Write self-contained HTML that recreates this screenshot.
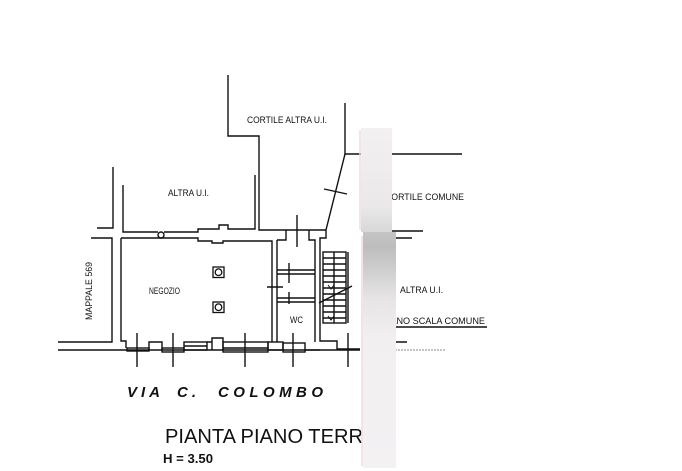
<!DOCTYPE html>
<html>
<head>
<meta charset="utf-8">
<style>
  html,body{margin:0;padding:0;background:#fff;}
  svg{display:block;}
  text{font-family:"Liberation Sans",Arial,sans-serif;fill:#111;}
</style>
</head>
<body>
<svg width="682" height="471" viewBox="0 0 682 471" xmlns="http://www.w3.org/2000/svg">
  <defs>
    <linearGradient id="gTop" x1="0" y1="0" x2="0" y2="1">
      <stop offset="0" stop-color="#f2f0f1"/>
      <stop offset="0.75" stop-color="#eae8e9"/>
      <stop offset="0.9" stop-color="#e0dfe0"/>
      <stop offset="1" stop-color="#d9d8d9"/>
    </linearGradient>
    <linearGradient id="gBot" x1="0" y1="0" x2="0" y2="1">
      <stop offset="0" stop-color="#c6c5c6"/>
      <stop offset="0.06" stop-color="#bebdbe"/>
      <stop offset="0.16" stop-color="#cfcecf"/>
      <stop offset="0.28" stop-color="#e6e4e5"/>
      <stop offset="0.45" stop-color="#f1eff0"/>
      <stop offset="1" stop-color="#f3f1f2"/>
    </linearGradient>
  </defs>

  <g fill="none" stroke="#111" stroke-width="1.4" stroke-linejoin="miter">
    <!-- top-left boundaries -->
    <path d="M113,167 V228 H97"/>
    <path d="M91,238 H112 V342 H58"/>
    <path d="M123,185 V232 H158"/>
    <path d="M164,232 H198 V229 H219 V225 H228 V229 H255 V175"/>
    <circle cx="161" cy="235" r="3"/>
    <!-- cortile altra ui -->
    <path d="M228,75 V136 H259 V230 H326"/>
    <!-- diagonal wall & right boundary -->
    <path d="M345,103 V154 H462"/>
    <path d="M345,154 L326,230 V238 H320 V341 H337 V349 H360"/>

    <!-- main room inner -->
    <path d="M121,238 H198 V241 H212 V243 H223 V241 H272 V342"/>
    <path d="M121,238 V341 H126 V348"/>
    <path d="M277,240 V342"/>
    <!-- small rooms -->
    <path d="M277,240 H286 V230"/>
    <path d="M309,230 V240 H315 V342"/>
    <path d="M277,270 H315 M277,274 H315 M277,298 H315 M277,302 H315"/>

    <!-- bottom wall -->
    <path d="M58,350 H360"/>
    <rect x="127" y="348" width="22" height="3"/>
    <path d="M149,350 V342 H162 V350"/>
    <rect x="162" y="348" width="22" height="4"/>
    <rect x="184" y="342" width="23" height="8"/>
    <path d="M184,346 H207"/>
    <path d="M207,342 H212 V338 H223 V350 M212,338 V350"/>
    <rect x="223" y="342" width="45" height="10"/>
    <path d="M223,348 H268"/>
    <rect x="268" y="342" width="15" height="8"/>
    <rect x="283" y="343" width="22" height="9"/>
    <path d="M305,350 H320"/>

    <!-- stairs -->
    <rect x="323" y="252" width="23" height="71"/>
    <path d="M348,252 V323"/>
    <path d="M334,252 V323"/>
    <path d="M323,258 H346 M323,264 H346 M323,270 H346 M323,276 H346 M323,282 H346 M323,288 H346 M323,294 H346 M323,300 H346 M323,306 H346 M323,312 H346 M323,318 H346"/>
    <path d="M319,303 L352,286"/>
    <path d="M328,285 L331,289 L334,285 M328,316 L331,320 L334,316" stroke-width="1"/>

    <!-- ticks -->
    <path d="M137,333 V367 M173,333 V367 M245,333 V367 M293,333 V367 M348,333 V367"/>
    <path d="M297,215 V247 M289,263 V283 M289,292 V304 M267,287 H283"/>
    <path d="M324,189 L347,194"/>

    <!-- right side lines -->
    <path d="M368,231 H423 M383,238 H412 M390,327 H487 M390,342 H407"/>
    <path d="M395,350 H445" stroke="#888" stroke-width="1" stroke-dasharray="2,1"/>
  </g>

  <!-- pillars -->
  <g fill="none" stroke="#111" stroke-width="1.3">
    <rect x="213" y="267" width="11" height="10.5"/>
    <circle cx="218.5" cy="272.2" r="3.3"/>
    <rect x="213" y="302" width="11" height="10.5"/>
    <circle cx="218.5" cy="307.2" r="3.3"/>
  </g>

  <!-- labels -->
  <g font-size="9.5">
    <text x="247" y="123" textLength="80" lengthAdjust="spacingAndGlyphs">CORTILE ALTRA U.I.</text>
    <text x="168" y="196" textLength="41" lengthAdjust="spacingAndGlyphs">ALTRA U.I.</text>
    <text x="149" y="294" textLength="31" lengthAdjust="spacingAndGlyphs">NEGOZIO</text>
    <text x="290" y="323" textLength="13" lengthAdjust="spacingAndGlyphs">WC</text>
    <text transform="translate(92,320) rotate(-90)" x="0" y="0" textLength="58" lengthAdjust="spacingAndGlyphs">MAPPALE 569</text>
    <text x="385" y="200" textLength="79" lengthAdjust="spacingAndGlyphs">CORTILE COMUNE</text>
    <text x="400" y="293" textLength="43" lengthAdjust="spacingAndGlyphs">ALTRA U.I.</text>
    <text x="385" y="324" textLength="100" lengthAdjust="spacingAndGlyphs">VANO SCALA COMUNE</text>
  </g>

  <g font-size="15" font-weight="bold" font-style="italic">
    <text x="127" y="397" textLength="33" lengthAdjust="spacing">VIA</text>
    <text x="177" y="397" textLength="19" lengthAdjust="spacing">C.</text>
    <text x="218" y="397" textLength="105" lengthAdjust="spacing">COLOMBO</text>
  </g>

  <text x="165" y="443" font-size="20" textLength="198" lengthAdjust="spacingAndGlyphs">PIANTA PIANO TERR</text>
  <text x="163" y="463" font-size="12.5" font-weight="bold" textLength="50" lengthAdjust="spacingAndGlyphs">H = 3.50</text>

  <!-- blurred strip -->
  <rect x="359" y="130" width="2.5" height="100" fill="#efd9df" opacity="0.7"/>
  <rect x="361" y="128" width="31" height="104" fill="url(#gTop)"/>
  <rect x="361" y="236" width="2.5" height="230" fill="#eed6dc" opacity="0.7"/>
  <rect x="363" y="232" width="33" height="236" fill="url(#gBot)"/>
</svg>
</body>
</html>
